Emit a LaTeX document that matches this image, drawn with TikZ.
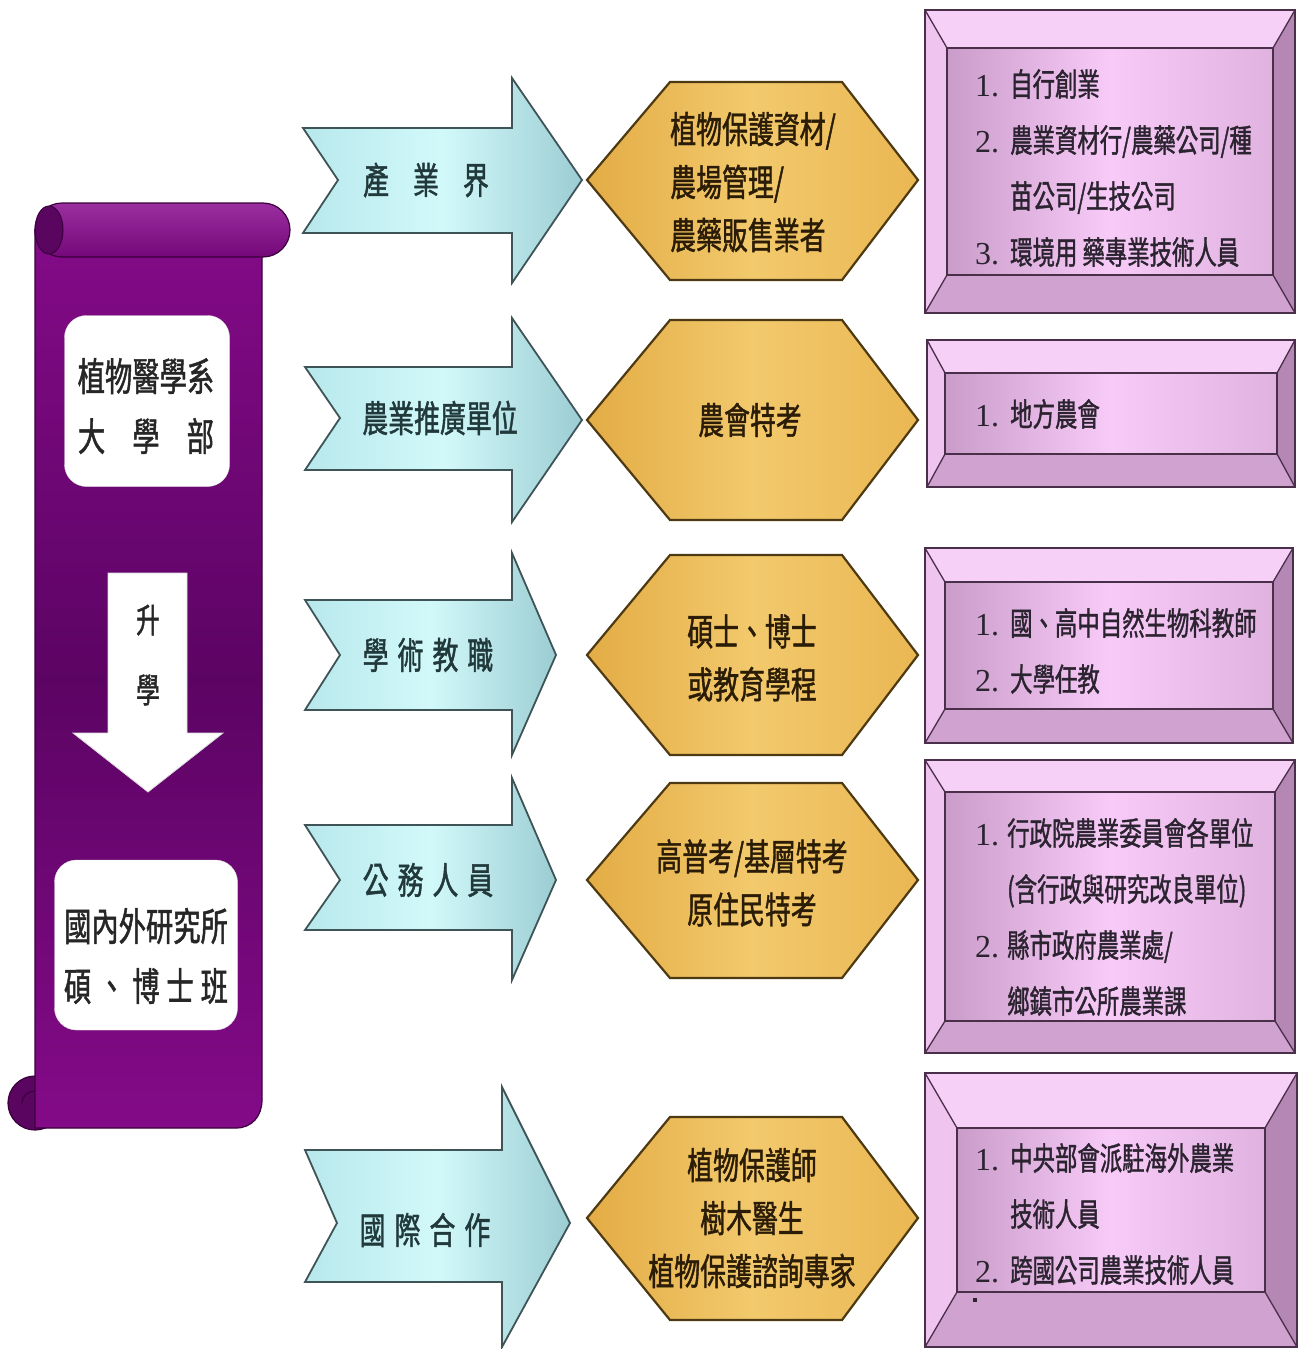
\documentclass[tikz,border=0pt]{standalone}
\usepackage{fontspec}
\setmainfont{Liberation Serif}
\newfontfamily\cjk[FakeStretch=0.7,FakeBold=1.2]{Noto Sans CJK TC}
\usetikzlibrary{calc}
\definecolor{cyanA}{HTML}{B8E8EC}
\definecolor{cyanB}{HTML}{9CCDD3}
\definecolor{cyanC}{HTML}{D2F9FA}
\definecolor{arrline}{HTML}{3E5456}
\definecolor{goldA}{HTML}{E3AC45}
\definecolor{goldB}{HTML}{EAB753}
\definecolor{goldC}{HTML}{F2C96C}
\definecolor{hexline}{HTML}{4E3A12}
\definecolor{pkTop}{HTML}{F6D0F6}
\definecolor{pkLeft}{HTML}{EFC4EF}
\definecolor{pkRight}{HTML}{B487B4}
\definecolor{pkBot}{HTML}{CFA2CF}
\definecolor{pkFaceA}{HTML}{C99CC9}
\definecolor{pkFaceB}{HTML}{F7CAF7}
\definecolor{pkFaceC}{HTML}{E0B2E0}
\definecolor{pkLine}{HTML}{4A2F4A}
\definecolor{scrA}{HTML}{840A88}
\definecolor{scrB}{HTML}{5C0464}
\definecolor{scrRoll}{HTML}{8A0A8F}
\definecolor{scrDark}{HTML}{5A0560}
\definecolor{scrLine}{HTML}{3A003C}
\definecolor{txtDark}{HTML}{2B2430}
\definecolor{txtTeal}{HTML}{22393B}
\definecolor{txtBrown}{HTML}{2A1C06}

\newcommand\bevelbox[6]{%
 \fill[pkTop] (#1,#2) -- (#3,#2) -- ({#3-#5},{#2+#6}) -- ({#1+#5},{#2+#6}) -- cycle;
 \fill[pkBot] (#1,#4) -- (#3,#4) -- ({#3-#5},{#4-#6}) -- ({#1+#5},{#4-#6}) -- cycle;
 \fill[pkLeft] (#1,#2) -- ({#1+#5},{#2+#6}) -- ({#1+#5},{#4-#6}) -- (#1,#4) -- cycle;
 \fill[pkRight] (#3,#2) -- ({#3-#5},{#2+#6}) -- ({#3-#5},{#4-#6}) -- (#3,#4) -- cycle;
 \path[left color=pkFaceA, right color=pkFaceC, middle color=pkFaceB] ({#1+#5},{#2+#6}) rectangle ({#3-#5},{#4-#6});
 \draw[pkLine, line width=1.6pt] (#1,#2) rectangle (#3,#4);
 \draw[pkLine, line width=1.6pt] ({#1+#5},{#2+#6}) rectangle ({#3-#5},{#4-#6});
 \draw[pkLine, line width=1.3pt] (#1,#2) -- ({#1+#5},{#2+#6}) (#3,#2) -- ({#3-#5},{#2+#6})
   (#1,#4) -- ({#1+#5},{#4-#6}) (#3,#4) -- ({#3-#5},{#4-#6});
}

\tikzset{
 arrowshape/.style={draw=arrline, line width=1.8pt, left color=cyanA, right color=cyanB, middle color=cyanC},
 hexshape/.style={draw=hexline, line width=2.2pt, left color=goldA, right color=goldB, middle color=goldC},
 arrtext/.style={font=\cjk\fontsize{37}{46}\selectfont, text=txtTeal, inner sep=0pt},
 hextext/.style={font=\cjk\fontsize{37}{53}\selectfont, align=center, text=txtBrown, inner sep=0pt},
 listtext/.style={font=\fontsize{32}{56}\selectfont, anchor=west, inner sep=0pt, text=txtDark},
 whitebox/.style={fill=white, draw=black!12, rounded corners=22pt, minimum width=#1, inner sep=0pt},
 lefttext/.style={font=\cjk\fontsize{39}{60}\selectfont, align=center, text=black!85, inner sep=0pt},
}

\begin{document}
\begin{tikzpicture}[x=1pt,y=-1pt]
\path[use as bounding box, fill=white] (0,0) rectangle (1299,1349);

% ---------- scroll ----------
\path[fill=scrDark, draw=scrLine, line width=1.2pt] (35,1103) circle (27);
\draw[scrLine, line width=1pt] (22,1103) arc[start angle=180, end angle=360, x radius=13, y radius=12];
\path[top color=scrA, bottom color=scrA, middle color=scrB, draw=scrLine, line width=1.2pt]
  (35,230) -- (262,230) -- (262,1100) .. controls (262,1116) and (252,1128) .. (236,1128) -- (35,1128) -- cycle;
\path[top color=scrRoll!85!white, bottom color=scrRoll!85!black, draw=scrLine, line width=1.2pt, rounded corners=27pt]
  (35,203) rectangle (290,257);
\path[fill=scrDark, draw=scrLine, line width=1pt] (49,230) ellipse[x radius=14, y radius=24];

\node[whitebox=165pt, minimum height=171pt] (ugbox) at (147,401) {};
\node[lefttext] (ugtext) at (146,406) {植物醫學系\\\makebox[136pt][s]{大 學 部}};

\path[fill=white, draw=black!15, line width=0.8pt] (108,573) -- (187,573) -- (187,733) -- (223,733) -- (148,792) -- (73,733) -- (108,733) -- cycle;
\node[lefttext, font=\cjk\fontsize{34}{70}\selectfont] (uptext) at (148,655) {升\\學};

\node[whitebox=183pt, minimum height=170pt] (grbox) at (146,945) {};
\node[lefttext] (grtext) at (146,956) {國內外研究所\\\makebox[164pt][s]{碩 、 博 士 班}};

% ---------- arrows ----------
\path[arrowshape] (303,128) -- (512,128) -- (512,78) -- (582,180) -- (512,283) -- (512,233) -- (303,233) -- (338,180) -- cycle;
\node[arrtext] (a1) at (426,180) {產\hspace{24pt}業\hspace{24pt}界};
\path[arrowshape] (305,367) -- (512,367) -- (512,318) -- (582,420) -- (512,522) -- (512,470) -- (305,470) -- (340,418) -- cycle;
\node[arrtext] (a2) at (440,418) {農業推廣單位};
\path[arrowshape] (305,600) -- (512,600) -- (512,553) -- (556,655) -- (512,755) -- (512,710) -- (305,710) -- (340,655) -- cycle;
\node[arrtext] (a3) at (428,655) {學\hspace{9pt}術\hspace{9pt}教\hspace{9pt}職};
\path[arrowshape] (305,825) -- (512,825) -- (512,778) -- (556,880) -- (512,980) -- (512,930) -- (305,930) -- (340,880) -- cycle;
\node[arrtext] (a4) at (428,880) {公\hspace{9pt}務\hspace{9pt}人\hspace{9pt}員};
\path[arrowshape] (305,1150) -- (502,1150) -- (502,1087) -- (570,1223) -- (502,1347) -- (502,1282) -- (305,1282) -- (337,1223) -- cycle;
\node[arrtext] (a5) at (425,1230) {國\hspace{9pt}際\hspace{9pt}合\hspace{9pt}作};

% ---------- hexagons ----------
\path[hexshape] (587,180) -- (670,82) -- (842,82) -- (918,180) -- (842,280) -- (670,280) -- cycle;
\node[hextext, align=left] (h1) at (753,182) {植物保護資材/\\農場管理/\\農藥販售業者};
\path[hexshape] (587,420) -- (670,320) -- (842,320) -- (918,420) -- (842,520) -- (670,520) -- cycle;
\node[hextext] (h2) at (750,420) {農會特考};
\path[hexshape] (587,655) -- (670,555) -- (842,555) -- (918,655) -- (842,755) -- (670,755) -- cycle;
\node[hextext] (h3) at (752,658) {碩士、博士\\或教育學程};
\path[hexshape] (587,880) -- (670,783) -- (842,783) -- (918,880) -- (842,978) -- (670,978) -- cycle;
\node[hextext] (h4) at (752,883) {高普考/基層特考\\原住民特考};
\path[hexshape] (587,1218) -- (670,1117) -- (842,1117) -- (918,1218) -- (842,1320) -- (670,1320) -- cycle;
\node[hextext] (h5) at (752,1218) {植物保護師\\樹木醫生\\植物保護諮詢專家};

% ---------- bevel boxes ----------
\bevelbox{925}{10}{1295}{313}{22}{38}
\node[listtext] (l1) at (975,169) {\begin{tabular}{@{}l@{\hspace{11pt}}l@{}}1.&\cjk 自行創業\\2.&\cjk 農業資材行/農藥公司/種\\&\cjk 苗公司/生技公司\\3.&\cjk 環境用 藥專業技術人員\end{tabular}};

\bevelbox{927}{340}{1295}{487}{18}{33}
\node[listtext] (l2) at (975,415) {\begin{tabular}{@{}l@{\hspace{11pt}}l@{}}1.&\cjk 地方農會\end{tabular}};

\bevelbox{925}{548}{1293}{743}{20}{34}
\node[listtext] (l3) at (975,652) {\begin{tabular}{@{}l@{\hspace{11pt}}l@{}}1.&\cjk 國、高中自然生物科教師\\2.&\cjk 大學任教\end{tabular}};

\bevelbox{925}{760}{1295}{1053}{20}{32}
\node[listtext] (l4) at (975,918) {\begin{tabular}{@{}l@{\hspace{8pt}}l@{}}1.&\cjk 行政院農業委員會各單位\\&\cjk (含行政與研究改良單位)\\2.&\cjk 縣市政府農業處/\\&\cjk 鄉鎮市公所農業課\end{tabular}};

\bevelbox{925}{1073}{1297}{1347}{32}{55}
\node[listtext] (l5) at (975,1215) {\begin{tabular}{@{}l@{\hspace{11pt}}l@{}}1.&\cjk 中央部會派駐海外農業\\&\cjk 技術人員\\2.&\cjk 跨國公司農業技術人員\end{tabular}};
\fill[txtDark] (973,1298) rectangle (977,1302);
\end{tikzpicture}
\end{document}
